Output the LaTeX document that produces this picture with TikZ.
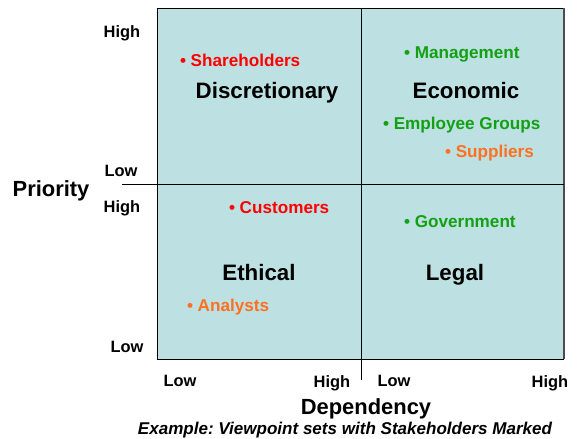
\documentclass[tikz,border=0pt]{standalone}
\usepackage{fontspec}
\setmainfont{Liberation Sans}
\definecolor{quadfill}{HTML}{BDE1E2}
\definecolor{itemred}{HTML}{FF0000}
\definecolor{itemgreen}{HTML}{13A013}
\definecolor{itemorange}{HTML}{FF7020}
\frenchspacing
\begin{document}
\begin{tikzpicture}[x=1bp,y=-1bp,
  every node/.style={inner sep=0pt,outer sep=0pt,text depth=0pt,font=\bfseries},
  axislbl/.style={font=\fontsize{16.5}{18}\selectfont\bfseries,text height=12pt},
  bigttl/.style={font=\fontsize{22}{24}\selectfont\bfseries,text height=16pt},
  quadttl/.style={font=\fontsize{22.4}{24}\selectfont\bfseries,text height=16pt},
  item/.style={font=\fontsize{17.2}{19}\selectfont\bfseries,text height=12.4pt,anchor=west},
  gridline/.style={draw=black,line width=0.9bp}]
\useasboundingbox (0,0) rectangle (579,439);
% quadrant area
\path[fill=quadfill] (157,8) rectangle (564,359);
\draw[gridline] (564,8) -- (157,8) -- (157,359) -- (564,359);
\draw[draw=black!70,line width=1.3bp] (564,8) -- (564,359);
\coordinate (hl) at (122,184);
\coordinate (hr) at (564,184);
\coordinate (vt) at (361,8);
\coordinate (vb) at (361,380);
\draw[gridline] (hl) -- (hr);
\draw[gridline] (vt) -- (vb);
% axis labels
\node[axislbl] (ph1) at (122,32) {High};
\node[axislbl] (pl1) at (121,171) {Low};
\node[bigttl] (prio) at (51,189) {Priority};
\node[axislbl] (ph2) at (122,207) {High};
\node[axislbl] (pl2) at (127,347) {Low};
\node[axislbl] (dl1) at (180,381) {Low};
\node[axislbl] (dh1) at (332,382) {High};
\node[axislbl] (dl2) at (394,381) {Low};
\node[axislbl] (dh2) at (550,382) {High};
\node[bigttl] (dep) at (366,407) {Dependency};
\node[font=\fontsize{17.1}{18}\selectfont\bfseries\itshape,text height=12pt] (cap) at (345,429) {Example: Viewpoint sets with Stakeholders Marked};
% quadrant titles
\node[quadttl] (disc) at (267,91) {Discretionary};
\node[quadttl] (econ) at (466,91) {Economic};
\node[quadttl] (eth) at (259,273) {Ethical};
\node[quadttl] (leg) at (455,273) {Legal};
% items
\node[item,text=itemred] (sh) at (180,60) {• Shareholders};
\node[item,text=itemgreen] (mg) at (404,52) {• Management};
\node[item,text=itemgreen] (eg) at (383,123) {• Employee Groups};
\node[item,text=itemorange] (su) at (445,151) {• Suppliers};
\node[item,text=itemred] (cu) at (229,207) {• Customers};
\node[item,text=itemgreen] (gv) at (404,221) {• Government};
\node[item,text=itemorange] (an) at (187,305) {• Analysts};
\end{tikzpicture}
\end{document}
